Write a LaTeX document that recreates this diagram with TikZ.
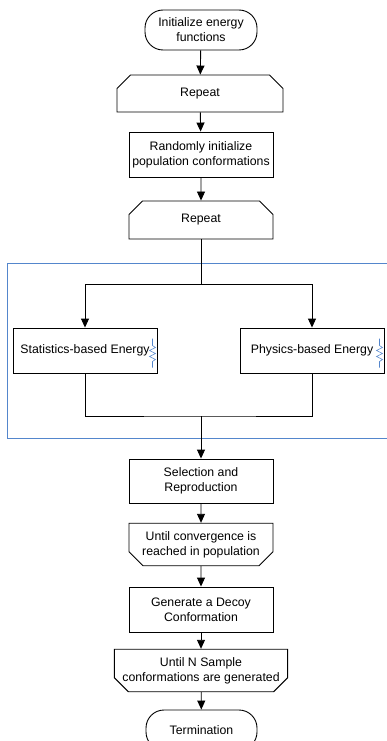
\documentclass[tikz,border=0pt]{standalone}
\usepackage{fontspec}
\setmainfont{Liberation Sans}
\usetikzlibrary{shapes.misc,arrows.meta}
\definecolor{frameblue}{RGB}{84,134,204}

\begin{document}
\begin{tikzpicture}[x=1pt, y=-1pt, line width=0.9pt, >={Triangle[length=9pt,width=8pt]}, font=\fontsize{12.3}{15}\selectfont]
    \tikzstyle{terminal}=[draw, rectangle, rounded corners=18pt, minimum width=112pt, minimum height=40pt, align=center, inner sep=1pt]
    \tikzstyle{block}=[draw, rectangle, minimum width=144pt, minimum height=45pt, align=center, inner sep=1pt]
    \tikzstyle{loophead}=[draw, chamfered rectangle, chamfered rectangle corners={north west, north east}, chamfered rectangle xsep=7pt, chamfered rectangle ysep=7pt, minimum width=144pt, minimum height=37pt, align=center, inner sep=1pt]
    \tikzstyle{looptail}=[draw, chamfered rectangle, chamfered rectangle corners={south west, south east}, chamfered rectangle xsep=7pt, chamfered rectangle ysep=7pt, minimum width=144pt, minimum height=37pt, align=center, inner sep=1pt]
    \tikzstyle{zigzag}=[draw=frameblue, line width=0.6pt, -]

    \useasboundingbox (0,0) rectangle (387,741);

    % outer loop
    \node[terminal] (init) at (201,30) {Initialize energy\\functions};
    \node[loophead, minimum width=166pt] (rep1) at (200,93.5) {Repeat};
    \node[block] (rand) at (201,154.5) {Randomly initialize\\population conformations};
    \node[loophead, minimum height=38pt] (rep2) at (201,220) {Repeat};

    % energy evaluation
    \draw[frameblue] (7,263) rectangle (400,438);
    \node[block] (stat) at (85,350.5) {Statistics-based Energy};
    \node[block] (phys) at (312,350.5) {Physics-based Energy};
    \coordinate (split) at (201,284);
    \coordinate (merge) at (201,416);

    \node[block, minimum height=44pt] (sel) at (201,481) {Selection and\\Reproduction};
    \node[looptail] (conv) at (201,544.5) {Until convergence is\\reached in population};
    \node[block] (decoy) at (201,609.5) {Generate a Decoy\\Conformation};
    \node[looptail, minimum width=166pt] (untiln) at (201,670.5) {Until N Sample\\conformations are generated};
    \node[terminal, minimum width=111pt] (term) at (201.5,730) {Termination};

    \path[->] (init) edge (rep1);
    \path[->] (rep1) edge (rand);
    \path[->] (rand) edge (rep2);
    \draw (rep2) -- (split);
    \draw[->] (split) -| (stat);
    \draw[->] (split) -| (phys);
    \draw (stat) |- (merge) -| (phys);
    \draw[->] (merge) -- (sel);
    \path[->] (sel) edge (conv);
    \path[->] (conv) edge (decoy);
    \path[->] (decoy) edge (untiln);
    \path[->] (untiln) edge (term);

    \foreach \b in {stat,phys}
        \draw[zigzag] ([shift={(-5,-12)}]\b.east) -- ++(0,7) -- ++(3,2) -- ++(-6,3) -- ++(6,3) -- ++(-6,3) -- ++(6,3) -- ++(-3,2) -- ++(0,6);
\end{tikzpicture}
\end{document}
